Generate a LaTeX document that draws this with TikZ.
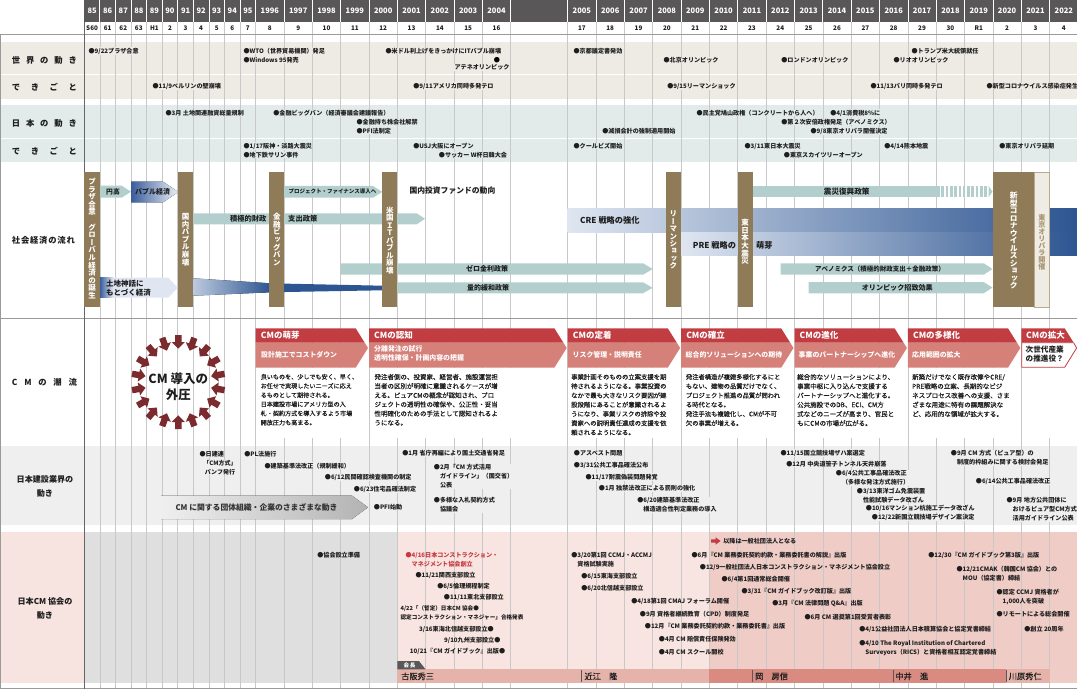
\documentclass[tikz,border=0pt]{standalone}
\usepackage{fontspec}
\setmainfont{Noto Sans CJK JP}
\newfontfamily\vfont[RawFeature=+vert]{Noto Sans CJK JP}
\newfontfamily\mfont[FakeBold=0.3]{Noto Sans CJK JP}
\newcommand\fs[1]{\fontsize{#1}{#1}\selectfont}
\newcommand\fsl[2]{\fontsize{#1}{#2}\selectfont}
\makeatletter
\newdimen\vpitch
\newcommand\vstk[2]{\vpitch=#1\relax\vbox{\offinterlineskip\vstk@loop#2\relax}}
\def\vstk@loop#1{\ifx\relax#1\else\hbox to 1em{\hss\vrule width 0pt height .84\vpitch depth .16\vpitch\relax #1\hss}\expandafter\vstk@loop\fi}
\makeatother
\definecolor{cHead}{HTML}{5A5758}
\definecolor{cBeige}{HTML}{EEEBE5}
\definecolor{cJp}{HTML}{E2EAEA}
\definecolor{cBrown}{HTML}{8F7B57}
\definecolor{cTeal}{HTML}{B3CFCD}
\definecolor{cBlD}{HTML}{2D5591}
\definecolor{cBlM}{HTML}{3A5D9C}
\definecolor{cBlL}{HTML}{DFE6F1}
\definecolor{cRedD}{HTML}{C13D42}
\definecolor{cRedL}{HTML}{D5817A}
\definecolor{cArr}{HTML}{7B2A2E}
\definecolor{cGray}{HTML}{EFEFEF}
\definecolor{cGrayA}{HTML}{DEDFDE}
\definecolor{cGrayArr}{HTML}{B3B3B3}
\definecolor{cPink}{HTML}{F8E5E1}
\definecolor{cPink2}{HTML}{EFCCC6}
\definecolor{cLblPink}{HTML}{F7E3DF}
\definecolor{cGrid}{HTML}{C8C8C8}
\definecolor{cFrame}{HTML}{9A9A9A}
\definecolor{cBand1}{HTML}{E6B3AA}
\definecolor{cBand2}{HTML}{D98B81}
\definecolor{cTan}{HTML}{A8956F}
\definecolor{cOri}{HTML}{EFECE6}
\definecolor{cRedTxt}{HTML}{C8393F}
\definecolor{cTxt}{HTML}{1E1E1E}
\tikzset{
  gl/.style={draw=cGrid, line width=0.7pt},
  ev/.style={anchor=west, inner sep=0.4pt, font=\fs{6.1}\bfseries, text=cTxt},
  evm/.style={anchor=north west, inner sep=0.4pt, align=left, font=\fsl{6.1}{9}\bfseries, text=cTxt},
  eve/.style={anchor=east, inner sep=0.4pt, font=\fs{6.1}\bfseries, text=cTxt},
  bW/.style={fill=cBeige}, bJ/.style={fill=cJp}, bC/.style={fill=cGray},
  bA/.style={fill=cGrayA}, bP/.style={fill=cPink}, bQ/.style={fill=cPink2},
  lab/.style={font=\fs{8.3}\bfseries, anchor=west, inner sep=0, text=cTxt},
  labc/.style={font=\fsl{8.1}{14}\bfseries, align=center, inner sep=0, text=cTxt},
  vt/.style={anchor=north, inner sep=0, text=white, font=\vfont\fs{7.5}\bfseries},
  atx/.style={font=\fs{7}\bfseries, inner sep=0, text=cTxt},
  chh/.style={anchor=west, text=white, font=\fs{8.5}\bfseries, inner sep=0},
  chs/.style={anchor=west, text=white, font=\fsl{6.9}{8.8}\bfseries, inner sep=0, align=left},
  body/.style={anchor=north west, inner sep=0, align=left, text=cTxt},
  yr/.style={text=white, font=\fs{7.5}\bfseries, inner sep=0},
  era/.style={font=\fs{6.3}\bfseries, inner sep=0, text=cTxt},
  pres/.style={anchor=west, font=\mfont\fs{8.2}, inner sep=0, text=cTxt},
}
\begin{document}
\begin{tikzpicture}[x=1pt,y=-1pt]
\useasboundingbox (0,0) rectangle (1077,690);
% ---------- background bands
\fill[cBeige] (0,41.7) rectangle (1077,98.7);
\draw[white,line width=1pt] (0,75) -- (1077,75);
\fill[cJp] (0,105.3) rectangle (1077,162.3);
\draw[white,line width=1pt] (0,139) -- (1077,139);
\fill[cGray] (0,446) rectangle (1077,525);
\fill[cLblPink] (0,532) rectangle (84.3,682.7);
\fill[cGrayA] (84.3,532) rectangle (397.35,682.7);
\fill[cPink] (397.35,532) rectangle (709.45,682.7);
\fill[cPink2] (709.45,532) rectangle (1077,682.7);
% ---------- grid
\foreach \i in {1,...,11} \draw[gl] ({84.3+15.58*\i},22) -- ++(0,666.5);
\foreach \j in {1,...,9} \draw[gl] ({255.7+28.33*\j},22) -- ++(0,666.5);
\foreach \k in {0,...,17} \draw[gl] ({567.7+28.35*\k},22) -- ++(0,666.5);
% ---------- frame
\draw[cFrame,line width=0.7pt] (0,34.3) -- (1077,34.3);
\draw[cFrame,line width=0.7pt] (0.4,34.3) -- (0.4,688.5) -- (1077,688.5);
\draw[cFrame,line width=0.7pt] (0,318.3) -- (1077,318.3);
\draw[black!60,line width=0.8pt] (84.3,0) -- (84.3,688.5);
% ---------- header
\fill[cHead] (84.3,0) rectangle (1077,21.7);
\foreach \i in {1,...,11} \draw[white,line width=0.8pt] ({84.3+15.58*\i},0) -- ++(0,21.7);
\foreach \j in {1,...,9} \draw[white,line width=0.8pt] ({255.7+28.33*\j},0) -- ++(0,21.7);
\foreach \k in {0,...,17} \draw[white,line width=0.8pt] ({567.7+28.35*\k},0) -- ++(0,21.7);
\foreach \yr/\er [count=\i from 0] in {85/S60,86/61,87/62,88/63,89/H1,90/2,91/3,92/4,93/5,94/6,95/7}{
  \node[yr] (y\yr) at ({84.3+15.58*(\i+0.5)},11) {\yr};
  \node[era] (e\yr) at ({84.3+15.58*(\i+0.5)},28.3) {\er};}
\foreach \yr/\er [count=\i from 0] in {1996/8,1997/9,1998/10,1999/11,2000/12,2001/13,2002/14,2003/15,2004/16}{
  \node[yr] (y\yr) at ({255.7+28.33*(\i+0.5)},11) {\yr};
  \node[era] (e\yr) at ({255.7+28.33*(\i+0.5)},28.3) {\er};}
\foreach \yr/\er [count=\i from 0] in {2005/17,2006/18,2007/19,2008/20,2009/21,2010/22,2011/23,2012/24,2013/25,2014/26,2015/27,2016/28,2017/29,2018/30,2019/R1,2020/2,2021/3,2022/4}{
  \node[yr] (y\yr) at ({567.7+28.35*(\i+0.5)},11) {\yr};
  \node[era] (e\yr) at ({567.7+28.35*(\i+0.5)},28.3) {\er};}
% ---------- left labels
\node[lab] (L1) at (11.7,60) {\makebox[65pt][s]{世\hfil 界\hfil の\hfil 動\hfil き}};
\node[lab] (L2) at (11.7,87) {\makebox[65pt][s]{で\hfil き\hfil ご\hfil と}};
\node[lab] (L3) at (11.7,123) {\makebox[65pt][s]{日\hfil 本\hfil の\hfil 動\hfil き}};
\node[lab] (L4) at (11.7,151) {\makebox[65pt][s]{で\hfil き\hfil ご\hfil と}};
\node[lab] (L5) at (11.7,240.7) {\makebox[63pt][s]{社\hfil 会\hfil 経\hfil 済\hfil の\hfil 流\hfil れ}};
\node[lab] (L6) at (11.7,382) {\makebox[65pt][s]{C\hfil M\hfil の\hfil 潮\hfil 流}};
\node[labc] (L7) at (45,486) {日本建設業界の\\動き};
\node[labc] (L8) at (45,608.5) {日本CM 協会の\\動き};
% ---------- world
\node[ev,bW] (w1) at (88,51) {●9/22プラザ合意};
\node[ev,bW] (w2) at (243,51) {●WTO（世界貿易機関）発足};
\node[ev,bW] (w3) at (243,60) {●Windows 95発売};
\node[ev,bW] (w4) at (385,51) {●米ドル利上げをきっかけにITバブル崩壊};
\node[inner sep=0.4pt,font=\fs{6.1}\bfseries,fill=cBeige] (w5d) at (497,60) {●};
\node[inner sep=0.4pt,font=\fs{6.1}\bfseries,fill=cBeige,text=cTxt] (w5) at (482,67.3) {アテネオリンピック};
\node[ev,bW] (w6) at (573,51) {●京都議定書発効};
\node[ev,bW] (w7) at (663,60) {●北京オリンピック};
\node[ev,bW] (w8) at (780.7,60) {●ロンドンオリンピック};
\node[ev,bW] (w9) at (911,51) {●トランプ米大統領就任};
\node[ev,bW] (w10) at (893,60) {●リオオリンピック};
\node[ev,bW] (e1) at (152,86) {●11/9ベルリンの壁崩壊};
\node[ev,bW] (e2) at (412.7,86) {●9/11アメリカ同時多発テロ};
\node[ev,bW] (e3) at (666.7,86) {●9/15リーマンショック};
\node[ev,bW] (e4) at (870,86) {●11/13パリ同時多発テロ};
\node[ev,bW] (e5) at (986,86) {●新型コロナウイルス感染症発生};
% ---------- japan
\node[ev,bJ] (j1) at (165,113) {●3月 土地関連融資総量規制};
\node[ev,bJ] (j2) at (272.7,113) {●金融ビッグバン（経済審議会建議報告）};
\node[ev,bJ] (j3) at (356,122) {●金融持ち株会社解禁};
\node[ev,bJ] (j4) at (356,131) {●PFI法制定};
\node[ev,bJ] (j5) at (696,113) {●民主党鳩山政権（コンクリートから人へ）};
\node[ev,bJ] (j6) at (780.7,122) {●第２次安倍政権発足（アベノミクス）};
\node[ev,bJ] (j7) at (829.7,113) {●4/1消費税8\%に};
\node[ev,bJ] (j8) at (810,131) {●9/8東京オリパラ開催決定};
\node[ev,bJ] (j9) at (601.7,131) {●減損会計の強制適用開始};
\node[ev,bJ] (k1) at (243,146) {●1/17阪神・淡路大震災};
\node[ev,bJ] (k2) at (243,155) {●地下鉄サリン事件};
\node[ev,bJ] (k3) at (412.7,146) {●USJ大阪にオープン};
\node[ev,bJ] (k4) at (438.3,155) {●サッカー W杯日韓大会};
\node[ev,bJ] (k5) at (573,146) {●クールビズ開始};
\node[ev,bJ] (k6) at (744,146) {●3/11東日本大震災};
\node[ev,bJ] (k7) at (783.3,155) {●東京スカイツリーオープン};
\node[ev,bJ] (k8) at (883.7,146) {●4/14熊本地震};
\node[ev,bJ] (k9) at (998.7,146) {●東京オリパラ延期};
% ---------- socio-economic flow
\fill[left color=cBlL, right color=cBlD] (567.7,209) rectangle (1077,232.3);
\fill[left color=cBlL, right color=cBlD] (681.1,232.3) rectangle (1077,255.5);
\node[anchor=west,inner sep=0,font=\fs{8.2}\bfseries,text=cTxt] (cre) at (580,220.5) {CRE 戦略の強化};
\node[anchor=west,inner sep=0,font=\fs{8.2}\bfseries,text=cTxt] (pre) at (692.7,245) {PRE 戦略の};
\node[anchor=west,inner sep=0,font=\fs{8.2}\bfseries,text=cTxt] (pre2) at (756,245) {萌芽};
\fill[cTeal] (100,185.7) -- (121.7,185.7) -- (131,191.7) -- (121.7,197.7) -- (100,197.7) -- cycle;
\node[atx,anchor=west,font=\fs{6.8}\bfseries] (endaka) at (106,191.7) {円高};
\fill[left color=cBlM, right color=cBlL!60!white] (131,181.7) -- (163,181.7) -- (178.3,192) -- (163,202.3) -- (131,202.3) -- cycle;
\node[atx,anchor=west,font=\fs{7}\bfseries] (bubble) at (135,192) {バブル経済};
\fill[cTeal] (193.4,213.3) -- (416.7,213.3) -- (425,218.8) -- (416.7,224.3) -- (193.4,224.3) -- cycle;
\node[atx,anchor=east,font=\fs{7.3}\bfseries] (sekkyoku) at (266.7,218.8) {積極的財政};
\node[atx,anchor=west,font=\fs{7.3}\bfseries] (shishutsu) at (288,218.8) {支出政策};
\fill[cTeal] (284,186) -- (373,186) -- (382.3,191.9) -- (373,197.7) -- (284,197.7) -- cycle;
\node[atx,anchor=west,font=\fs{5.5}\bfseries] (pf) at (288.3,191.9) {プロジェクト・ファイナンス導入へ};
\node[atx,anchor=west,font=\fs{7.8}\bfseries] (fund) at (409.3,191) {国内投資ファンドの動向};
\fill[cTeal] (752.7,186) rectangle (937,197.3);
\foreach \s in {0,...,11} \fill[cTeal] ({937+4.3*\s},186) rectangle ++(2.6,11.3);
\fill[cTeal] (988.6,186) -- (992.5,191.6) -- (988.6,197.3) -- cycle;
\node[atx,anchor=west,font=\fs{7.6}\bfseries] (shinsai) at (823.7,191.6) {震災復興政策};
\fill[cTeal] (340.7,263.3) -- (643,263.3) -- (652.7,269) -- (643,274.7) -- (340.7,274.7) -- cycle;
\node[atx] (zero) at (487,269) {ゼロ金利政策};
\fill[cTeal] (397.3,282.3) -- (643,282.3) -- (652.7,287.8) -- (643,293.3) -- (397.3,293.3) -- cycle;
\node[atx] (qe) at (488,287.8) {量的緩和政策};
\fill[cTeal] (780.7,263.3) -- (983.7,263.3) -- (992.5,269) -- (983.7,274.7) -- (780.7,274.7) -- cycle;
\node[atx,anchor=west,font=\fs{6.5}\bfseries] (abe) at (815,269) {アベノミクス（積極的財政支出＋金融政策）};
\fill[cTeal] (808.7,282) -- (983.7,282) -- (992.5,287.6) -- (983.7,293.3) -- (808.7,293.3) -- cycle;
\node[atx,font=\fs{7.1}\bfseries] (olym) at (897.3,287.6) {オリンピック招致効果};
\fill[left color=cBlM, right color=cBlL] (100,277.7) rectangle (113,297.7);
\fill[cBlL] (113,277.7) -- (168.3,277.7) -- (177.7,287.7) -- (168.3,297.7) -- (113,297.7) -- cycle;
\node[atx,anchor=west,align=left,font=\fsl{7.5}{9}\bfseries] (land) at (106,287.8) {土地神話に\\もとづく経済};
\fill[left color=cBlL!80!cBlD, right color=cBlD] (193.4,278.3) -- (270,283.3) -- (270,292.3) -- (193.4,295.7) -- cycle;
\fill[cBlD] (269,283.3) -- (382.3,285.7) -- (382.3,290.3) -- (269,292.3) -- cycle;
% brown bars
\fill[cBrown] (84.3,172.3) rectangle (99.9,307.3);
\node[vt] (v1) at (92.1,178.1) {\vstk{7.55pt}{プラザ合意　グローバル経済の誕生}};
\fill[cBrown] (177.8,172.3) rectangle (193.4,307.3);
\node[vt] (v2) at (185.6,213.1) {\vstk{7.5pt}{国内バブル崩壊}};
\fill[cBrown] (269.3,172.3) rectangle (284.3,307.3);
\node[vt] (v3) at (276.8,213.1) {\vstk{7.5pt}{金融ビッグバン}};
\fill[cBrown] (382.3,172.3) rectangle (397.3,307.3);
\node[vt] (v4) at (389.8,206.4) {\vstk{7.5pt}{米国ＩＴバブル崩壊}};
\fill[cBrown] (665.7,172.3) rectangle (681,307.3);
\node[vt] (v5) at (673.4,210.4) {\vstk{7.4pt}{リーマンショック}};
\fill[cBrown] (737.8,172.3) rectangle (752.7,307.3);
\node[vt] (v6) at (745.2,219) {\vstk{7.6pt}{東日本大震災}};
\fill[cBrown] (992.9,172.3) rectangle (1034.7,307.3);
\node[vt,font=\vfont\fs{7.8}\bfseries] (v7) at (1013.8,192) {\vstk{7.45pt}{新型コロナウイルスショック}};
\fill[cOri,draw=cTan!80,line width=0.6pt] (1034.7,172.6) rectangle (1049.3,306.8);
\node[vt,text=cTan,font=\vfont\fs{7.1}\bfseries] (v8) at (1042,214) {\vstk{6.9pt}{東京オリパラ開催}};
% ---------- CM trend
\foreach \a in {90,110,...,430}
  \fill[cArr, shift={(178.3,382)}, rotate=\a] (47,-3.2) -- (40,-3.2) -- (40,-6.6) -- (33.3,0) -- (40,6.6) -- (40,3.2) -- (47,3.2) -- cycle;
\node[font=\fsl{12.5}{15.5}\bfseries,align=center,inner sep=0,text=cTxt] (gaiatsu) at (178.3,386.5) {CM 導入の\\外圧};
\foreach \xa/\xb in {255.7/369,369/567.7,567.7/681.1,681.1/794.5,794.5/907.9,907.9/1021.3,1021.3/1077}
  \fill[white] ({\xa+0.8},367.7) rectangle ({\xb-0.8},438);
\newcommand\chev[4]{%
  \fill[cRedL] (#1,342.7) -- ({#2-3.3},342.7) -- (#2,348) -- ({#2-12.3},367.7) -- (#1,367.7) -- cycle;
  \fill[cRedD] (#1,328.3) -- ({#2-12.3},328.3) -- ({#2-3.3},342.7) -- (#1,342.7) -- cycle;
  \node[chh] (#4) at ({#1+5},335.5) {#3};}
\chev{255.7}{368}{CMの萌芽}{ch1}
\chev{369}{566.7}{CMの認知}{ch2}
\chev{567.7}{680.1}{CMの定着}{ch3}
\chev{681.1}{793.5}{CMの確立}{ch4}
\chev{794.5}{906.9}{CMの進化}{ch5}
\chev{907.9}{1020.3}{CMの多様化}{ch6}
\fill[cRedD] (1021.3,328.3) -- (1064.7,328.3) -- (1073.7,342.7) -- (1021.3,342.7) -- cycle;
\node[chh] (ch7) at (1026,335.5) {CMの拡大};
\draw[cRedD,fill=white,line width=0.8pt] (1021.7,342.7) -- (1073.7,342.7) -- (1076.6,348) -- (1064.7,367.3) -- (1021.7,367.3) -- cycle;
\node[anchor=west,inner sep=0,align=left,font=\fsl{7.6}{9.6}\bfseries,text=cTxt] (ch7s) at (1025.5,354) {次世代産業\\の推進役？};
\node[chs] (s1) at (261,355) {設計施工でコストダウン};
\node[chs] (s2) at (374,353.5) {分離発注の試行\\透明性確保・計画内容の把握};
\node[chs] (s3) at (572.5,355) {リスク管理・説明責任};
\node[chs] (s4) at (685.5,355) {総合的ソリューションへの期待};
\node[chs] (s5) at (798.5,355) {事業のパートナーシップへ進化};
\node[chs] (s6) at (912,355) {応用範囲の拡大};
\node[body,font=\mfont\fsl{6.1}{9.15}] (t1) at (260.5,373.8) {良いものを、少しでも安く、早く、\\お任せで実現したいニーズに応え\\るものとして期待される。\\日本建設市場にアメリカ型の入\\札・契約方式を導入するよう市場\\開放圧力も高まる。};
\node[body,font=\mfont\fsl{6.5}{9.15}] (t2) at (374.3,373.8) {発注者側の、投資家、経営者、施設運営担\\当者の区別が明確に意識されるケースが増\\える。ピュアCMの概念が認知され、プロ\\ジェクトの透明性の確保や、公正性・妥当\\性明確化のための手法として認知されるよ\\うになる。};
\node[body,font=\mfont\fsl{6.35}{9.25}] (t3) at (571,373.8) {事業計画そのものの立案支援を期\\待されるようになる。事業投資の\\なかで最も大きなリスク要因が建\\設段階にあることが意識されるよ\\うになり、事業リスクの排除や投\\資家への説明責任達成の支援を依\\頼されるようになる。};
\node[body,font=\mfont\fsl{6.3}{9.25}] (t4) at (685.7,373.8) {発注者構造が複雑多様化するにと\\もない、建物の品質だけでなく、\\プロジェクト推進の品質が問われ\\る時代となる。\\発注手法も複雑化し、CMが不可\\欠の事業が増える。};
\node[body,font=\mfont\fsl{6.5}{9.25}] (t5) at (797,373.8) {総合的なソリューションにより、\\事業中枢に入り込んで支援する\\パートナーシップへと進化する。\\公共施設でのDB、ECI、CM方\\式などのニーズが高まり、官民と\\もにCMの市場が広がる。};
\node[body,font=\mfont\fsl{6.5}{9.25}] (t6) at (912,373.8) {新築だけでなく既存改修やCRE/\\PRE戦略の立案、長期的なビジ\\ネスプロセス改善への支援、さま\\ざまな用途に特有の課題解決な\\ど、応用的な領域が拡大する。};
% ---------- construction industry
\fill[left color=cGray, right color=cGrayArr] (161,495.7) -- (352,495.7) -- (368,507.3) -- (352,519) -- (161,519) -- cycle;
\node[anchor=west,inner sep=0,font=\fs{7.8}\bfseries,text=black!80] (cmorg) at (175.3,507.3) {CM に関する団体組織・企業のさまざまな動き};
\node[ev,bC] (c1) at (199,454) {●日建連};
\node[inner sep=0.4pt,align=center,font=\fsl{6}{9}\bfseries,text=cTxt,fill=cGray] (c1b) at (220,467.5) {「CM方式」\\パンフ発行};
\node[ev,bC] (c2) at (243.7,454) {●PL法施行};
\node[ev,bC] (c3) at (264,465.7) {●建築基準法改正（規制緩和）};
\node[ev,bC] (c4) at (324.3,477.3) {●6/12民間確認検査機関の制定};
\node[ev,bC] (c5) at (353.3,489.3) {●6/23住宅品確法制定};
\node[ev,bC] (c6) at (373.3,507) {●PFI始動};
\node[ev,bC] (c7) at (401.7,453.3) {●1月 省庁再編により国土交通省発足};
\node[evm,bC] (c8) at (433.3,464) {●2月「CM 方式活用\\\hspace*{1em}ガイドライン」（国交省）\\\hspace*{1em}公表};
\node[evm,bC] (c9) at (433.3,496.7) {●多様な入札契約方式\\\hspace*{1em}協議会};
\node[ev,bC] (c10) at (573.3,453) {●アスベスト問題};
\node[ev,bC] (c11) at (573.3,465) {●3/31公共工事品確法公布};
\node[ev,bC] (c12) at (585,477) {●11/17耐震偽装問題発覚};
\node[ev,bC] (c13) at (598.3,488.5) {●1月 独禁法改正による罰則の強化};
\node[evm,bC] (c14) at (636.7,496.7) {●6/20建築基準法改正\\\hspace*{1em}構造適合性判定業務の導入};
\node[ev,bC] (c15) at (780,453) {●11/15国立競技場ザハ案選定};
\node[ev,bC] (c16) at (785.7,464) {●12月 中央道笹子トンネル天井崩落};
\node[evm,bC] (c17) at (835.3,470) {●6/4公共工事品確法改正\\\hspace*{1em}（多様な発注方式施行）};
\node[evm,bC] (c18) at (856.3,487.2) {●3/13東洋ゴム免震装置\\\hspace*{1em}性能試験データ改ざん};
\node[ev,bC] (c19) at (865.3,508.3) {●10/16マンション杭施工データ改ざん};
\node[ev,bC] (c20) at (871.3,517.5) {●12/22新国立競技場デザイン案決定};
\node[evm,bC] (c21) at (950.3,449.7) {●9月 CM 方式（ピュア型）の\\\hspace*{1em}制度的枠組みに関する検討会発足};
\node[ev,bC] (c22) at (975.3,481.7) {●6/14公共工事品確法改正};
\node[evm,bC] (c23) at (1006,496.7) {●9月 地方公共団体に\\\hspace*{1em}おけるピュア型CM方式\\\hspace*{1em}活用ガイドライン公表};
% ---------- CM association
\node[ev,bA] (a1) at (316.7,555) {●協会設立準備};
\node[evm,text=cRedTxt] (a2) at (405,551.7) {●4/16日本コンストラクション・\\\hspace*{1em}マネジメント協会創立};
\node[ev] (a3) at (415,575.7) {●11/21関西支部設立};
\node[ev] (a4) at (436.7,586.7) {●6/5倫理規程制定};
\node[ev] (a5) at (443.3,597.3) {●11/11東北支部設立};
\node[evm,font=\fsl{5.6}{9.4}\bfseries] (a6) at (400,605) {4/22「（暫定）日本CM 協会●\\認定コンストラクション・マネジャー」合格発表};
\node[eve] (a7) at (494.3,629) {3/16東海北信越支部設立●};
\node[eve] (a8) at (501,640.3) {9/10九州支部設立●};
\node[eve] (a9) at (505.7,651.7) {10/21『CM ガイドブック』出版●};
\node[evm] (a10) at (570.7,551.7) {●3/20第1回 CCMJ・ACCMJ\\\hspace*{1em}資格試験実施};
\node[ev] (a11) at (580.7,576.7) {●6/15東海支部設立};
\node[ev] (a12) at (580.7,588.5) {●6/20北信越支部設立};
\node[ev] (a13) at (630.7,601.7) {●4/18第1回 CMAJ フォーラム開催};
\node[ev] (a14) at (639.3,614) {●9月 資格者継続教育（CPD）制度発足};
\node[ev] (a15) at (644.3,626.3) {●12月『CM 業務委託契約約款・業務委託書』出版};
\node[ev] (a16) at (658.3,638.7) {●4月 CM 賠償責任保険発効};
\node[ev] (a17) at (658.3,651.7) {●4月 CM スクール開校};
\fill[cRedD] (711,539.3) -- (715.5,539.3) -- (715.5,537.2) -- (720.5,541) -- (715.5,544.8) -- (715.5,542.7) -- (711,542.7) -- cycle;
\node[ev] (a18) at (722.7,541) {以降は一般社団法人となる};
\node[ev] (a19) at (691,555) {●6月『CM 業務委託契約約款・業務委託書の解説』出版};
\node[ev] (a20) at (699.3,567) {●12/9一般社団法人日本コンストラクション・マネジメント協会設立};
\node[ev] (a21) at (721,579.3) {●6/4第1回通常総会開催};
\node[ev] (a22) at (741,591.7) {●3/31『CM ガイドブック改訂版』出版};
\node[ev] (a23) at (771.7,604) {●3月『CM 法律問題 Q\&A』出版};
\node[ev] (a24) at (804,616.7) {●6月 CM 選奨第1回受賞者表彰};
\node[ev] (a25) at (858.7,629) {●4/1公益社団法人日本積算協会と協定覚書締結};
\node[evm] (a26) at (858.7,639.4) {●4/10 The Royal Institution of Chartered\\\hspace*{1em}Surveyors（RICS）と資格者相互認定覚書締結};
\node[ev] (a27) at (927.7,555) {●12/30『CM ガイドブック第3版』出版};
\node[evm] (a28) at (956,565.7) {●12/21CMAK（韓国CM 協会）との\\\hspace*{1em}MOU（協定書）締結};
\node[evm] (a29) at (996,588.4) {●認定 CCMJ 資格者が\\\hspace*{1em}1,000人を突破};
\node[ev] (a30) at (996,614.6) {●リモートによる総会開催};
\node[ev] (a31) at (1023.7,629) {●創立 20周年};
% presidents
\fill[cBand1] (397.35,669.3) rectangle (709.45,682.7);
\fill[cBand2] (709.45,669.3) rectangle (1006,682.7);
\fill[cBand1] (1006,669.3) rectangle (1049.65,682.7);
\foreach \x in {581.7,752.7,893,1006} \draw[black!65,line width=0.7pt] (\x,670.3) -- (\x,681.7);
\fill[cHead] (397.35,669.3) -- (397.35,661) -- (419,661) -- (425.5,669.3) -- cycle;
\node[inner sep=0,text=white,font=\fs{5.5}\bfseries] (kaicho) at (409.5,665.2) {会\,長};
\node[pres] (p1) at (401,676.3) {古阪秀三};
\node[pres] (p2) at (584.3,676.3) {近江　隆};
\node[pres] (p3) at (755,676.3) {岡　房信};
\node[pres] (p4) at (895.3,676.3) {中井　進};
\node[pres] (p5) at (1008.7,676.3) {川原秀仁};
\end{tikzpicture}
\end{document}
